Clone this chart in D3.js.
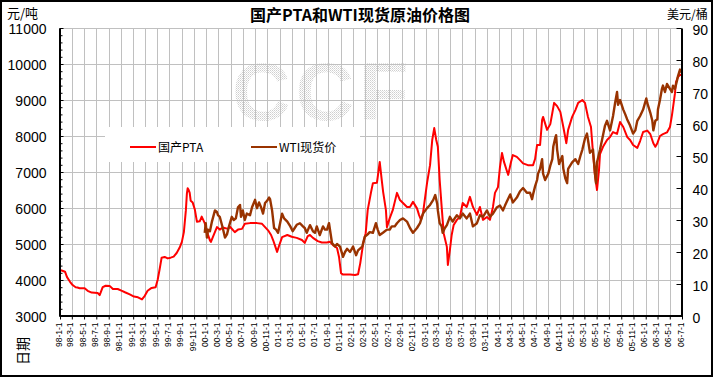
<!DOCTYPE html>
<html><head><meta charset="utf-8">
<script src="https://cdn.jsdelivr.net/npm/d3@7"></script>
<style>body{margin:0;background:#fff}svg{display:block}</style>
</head><body><svg id="chart" width="718" height="379"></svg>
<script>
const chartTitle = "国产PTA和WTI现货原油价格图";
const seriesNames = ["国产PTA", "WTI现货价"];
const leftUnit = "元/吨", rightUnit = "美元/桶", xTitle = "日期", watermark = "CCF";
const leftTicks = [3000, 4000, 5000, 6000, 7000, 8000, 9000, 10000, 11000];
const rightTicks = [0, 10, 20, 30, 40, 50, 60, 70, 80, 90];
const xTickLabels = [
 "98-1-1","98-3-1","98-5-1","98-7-1","98-9-1","98-11-1",
 "99-1-1","99-3-1","99-5-1","99-7-1","99-9-1","99-11-1",
 "00-1-1","00-3-1","00-5-1","00-7-1","00-9-1","00-11-1",
 "01-1-1","01-3-1","01-5-1","01-7-1","01-9-1","01-11-1",
 "02-1-1","02-3-1","02-5-1","02-7-1","02-9-1","02-11-1",
 "03-1-1","03-3-1","03-5-1","03-7-1","03-9-1","03-11-1",
 "04-1-1","04-3-1","04-5-1","04-7-1","04-9-1","04-11-1",
 "05-1-1","05-3-1","05-5-1","05-7-1","05-9-1","05-11-1",
 "06-1-1","06-3-1","06-5-1","06-7-1"];

const ptaSeries = [["1998-01-01",4280],["1998-01-16",4250],["1998-01-26",4230],["1998-02-05",4080],["1998-02-20",3950],["1998-03-05",3860],["1998-03-20",3800],["1998-03-29",3790],["1998-04-09",3770],["1998-05-04",3770],["1998-05-19",3700],["1998-06-08",3650],["1998-07-08",3640],["1998-07-18",3580],["1998-08-02",3800],["1998-08-17",3840],["1998-09-07",3830],["1998-09-22",3750],["1998-10-16",3750],["1998-11-06",3700],["1998-11-21",3660],["1998-12-15",3600],["1999-01-05",3540],["1999-01-25",3520],["1999-02-14",3460],["1999-02-28",3560],["1999-03-14",3700],["1999-04-03",3780],["1999-04-23",3800],["1999-05-03",4000],["1999-05-13",4300],["1999-05-23",4620],["1999-06-07",4640],["1999-06-22",4600],["1999-07-07",4620],["1999-07-22",4650],["1999-08-06",4750],["1999-08-21",4900],["1999-09-01",5060],["1999-09-11",5330],["1999-09-21",5940],["1999-09-26",6400],["1999-09-30",6550],["1999-10-05",6500],["1999-10-10",6420],["1999-10-15",6200],["1999-10-25",6150],["1999-11-05",5950],["1999-11-15",5620],["1999-11-29",5630],["1999-12-09",5760],["1999-12-24",5580],["2000-01-09",5260],["2000-01-19",5100],["2000-01-24",5060],["2000-02-03",5200],["2000-02-23",5470],["2000-03-08",5400],["2000-03-23",5460],["2000-04-18",5420],["2000-04-28",5480],["2000-05-22",5330],["2000-06-07",5400],["2000-06-27",5420],["2000-07-11",5560],["2000-08-06",5580],["2000-09-10",5580],["2000-10-05",5560],["2000-10-20",5470],["2000-11-04",5380],["2000-11-19",5250],["2000-11-29",5110],["2000-12-09",4950],["2000-12-19",4780],["2000-12-29",4950],["2001-01-13",5190],["2001-02-08",5250],["2001-03-02",5200],["2001-03-27",5170],["2001-04-22",5110],["2001-05-06",5030],["2001-05-21",5220],["2001-06-01",5250],["2001-06-16",5170],["2001-07-10",5080],["2001-07-30",5040],["2001-08-24",5040],["2001-09-09",5060],["2001-09-24",4970],["2001-10-14",4890],["2001-10-24",4640],["2001-11-03",4190],["2001-11-13",4150],["2001-12-18",4150],["2002-01-12",4140],["2002-01-27",4160],["2002-02-07",4470],["2002-02-22",5030],["2002-03-06",5300],["2002-03-16",5940],["2002-04-01",6420],["2002-04-11",6690],["2002-05-01",6700],["2002-05-05",6860],["2002-05-15",7280],["2002-05-25",6780],["2002-06-01",6450],["2002-06-15",5940],["2002-06-20",5470],["2002-07-04",5720],["2002-07-19",5940],["2002-08-09",6420],["2002-08-24",6220],["2002-09-08",6140],["2002-09-28",6030],["2002-10-13",6030],["2002-10-28",6170],["2002-11-17",5990],["2002-11-27",5810],["2002-12-07",5670],["2002-12-17",5860],["2003-01-06",6690],["2003-01-21",7190],["2003-02-01",7890],["2003-02-11",8220],["2003-02-21",7890],["2003-03-01",7700],["2003-03-10",6780],["2003-03-20",6030],["2003-03-30",5300],["2003-04-15",4920],["2003-04-20",4420],["2003-04-30",4830],["2003-05-09",5250],["2003-05-19",5530],["2003-06-04",5670],["2003-06-19",5750],["2003-07-03",6140],["2003-07-23",6030],["2003-08-08",6310],["2003-08-23",6030],["2003-09-12",5810],["2003-09-27",6030],["2003-10-12",5670],["2003-11-01",5750],["2003-11-16",5670],["2003-12-01",6030],["2003-12-11",6420],["2003-12-26",6580],["2004-01-05",7140],["2004-01-15",7530],["2004-01-25",7280],["2004-02-10",7000],["2004-02-15",6920],["2004-02-29",7280],["2004-03-09",7470],["2004-03-29",7420],["2004-04-14",7330],["2004-04-29",7240],["2004-05-23",7190],["2004-06-18",7190],["2004-06-28",7360],["2004-07-08",7750],["2004-07-23",7750],["2004-08-02",8440],["2004-08-07",8530],["2004-08-27",8170],["2004-09-12",8330],["2004-09-22",8640],["2004-10-01",8920],["2004-10-16",8830],["2004-11-01",8670],["2004-11-16",8250],["2004-12-01",7800],["2004-12-10",8170],["2004-12-30",8530],["2005-01-15",8720],["2005-01-29",8920],["2005-02-19",9000],["2005-03-04",8920],["2005-03-19",8530],["2005-04-03",8250],["2005-04-13",7530],["2005-04-23",6900],["2005-05-03",6500],["2005-05-13",7060],["2005-05-18",7500],["2005-06-02",7700],["2005-06-22",7890],["2005-07-07",7970],["2005-07-22",8110],["2005-08-11",8060],["2005-08-26",8390],["2005-09-11",8250],["2005-10-01",7970],["2005-10-15",7890],["2005-10-30",7750],["2005-11-20",7670],["2005-12-04",7860],["2005-12-19",8110],["2006-01-09",8150],["2006-01-24",8050],["2006-02-08",7800],["2006-02-18",7700],["2006-02-28",7800],["2006-03-13",8000],["2006-03-28",8050],["2006-04-17",8100],["2006-05-02",8250],["2006-05-12",8580],["2006-05-17",8780],["2006-05-27",9190],["2006-06-01",9500],["2006-06-11",9640],["2006-06-21",9700],["2006-07-01",9690]];

const wtiSeries = [["1999-12-24",26],["1999-12-29",29],["2000-01-04",24.5],["2000-01-09",27],["2000-01-19",26.5],["2000-01-29",29.5],["2000-02-13",33],["2000-02-23",32.5],["2000-02-28",31.5],["2000-03-08",31],["2000-03-23",27.5],["2000-04-03",24.5],["2000-04-13",25.5],["2000-04-23",28],["2000-05-07",31],["2000-05-17",30],["2000-05-27",30.5],["2000-06-07",34],["2000-06-17",34.7],["2000-06-22",31],["2000-07-01",33],["2000-07-11",30],["2000-07-21",32],["2000-08-06",31.5],["2000-08-16",34],["2000-08-31",36.3],["2000-09-10",33.7],["2000-09-20",35.5],["2000-09-30",34],["2000-10-10",32],["2000-10-20",35.3],["2000-10-30",36],["2000-11-09",37],["2000-11-14",36.5],["2000-11-24",33],["2000-12-04",27.5],["2000-12-14",27],["2000-12-24",26],["2001-01-03",29],["2001-01-13",32],["2001-01-23",30.5],["2001-02-08",29.5],["2001-02-23",28],["2001-03-07",26.5],["2001-03-17",27.5],["2001-03-27",28.5],["2001-04-12",29],["2001-04-27",28],["2001-05-06",27.5],["2001-05-16",26],["2001-06-01",28.4],["2001-06-16",26.5],["2001-06-26",26],["2001-07-05",28],["2001-07-20",25.3],["2001-08-05",28],["2001-08-15",27],["2001-08-25",27],["2001-09-04",29],["2001-09-19",22.8],["2001-10-04",21.7],["2001-10-14",22.5],["2001-10-29",21.7],["2001-11-13",18.5],["2001-11-23",20],["2001-12-03",21],["2001-12-18",20],["2002-01-02",21.7],["2002-01-17",19],["2002-01-27",20.5],["2002-02-17",21.7],["2002-03-01",24.7],["2002-03-16",25.5],["2002-03-26",26.2],["2002-04-11",26],["2002-04-26",29],["2002-05-05",27],["2002-05-15",25.3],["2002-05-31",26],["2002-06-20",27],["2002-07-04",27],["2002-07-14",28],["2002-07-29",28],["2002-08-09",29],["2002-08-24",30],["2002-09-08",30.5],["2002-09-28",29.5],["2002-10-13",27.5],["2002-10-28",26],["2002-11-17",27.5],["2002-12-02",29],["2002-12-17",32],["2003-01-06",33.7],["2003-01-21",34.7],["2003-02-06",36.3],["2003-02-16",37.8],["2003-02-26",35],["2003-03-01",33],["2003-03-10",29],["2003-03-20",28],["2003-03-25",26],["2003-04-05",27.5],["2003-04-15",28.4],["2003-04-30",31],["2003-05-14",29.5],["2003-05-24",30.5],["2003-06-04",31.5],["2003-06-19",30.5],["2003-07-03",32],["2003-07-23",30.5],["2003-08-08",32],["2003-08-23",28],["2003-09-12",29],["2003-09-27",31.5],["2003-10-12",31],["2003-11-01",33],["2003-11-16",31],["2003-12-01",32],["2003-12-21",34],["2004-01-05",34.5],["2004-01-20",33],["2004-01-30",34.5],["2004-02-10",36],["2004-02-25",38],["2004-03-09",35.5],["2004-03-29",37],["2004-04-14",39],["2004-04-29",40],["2004-05-18",38.5],["2004-06-03",38.5],["2004-06-13",36.5],["2004-06-18",38],["2004-06-28",40.5],["2004-07-08",42.5],["2004-07-13",44.5],["2004-07-23",46],["2004-08-02",49],["2004-08-07",44.5],["2004-08-17",42.5],["2004-09-02",44.5],["2004-09-12",47],["2004-09-22",49],["2004-09-27",53],["2004-10-06",55.5],["2004-10-11",56.5],["2004-10-16",52],["2004-10-26",47.5],["2004-11-11",50],["2004-11-16",46],["2004-11-26",43],["2004-12-05",41.5],["2004-12-10",46],["2004-12-20",47],["2004-12-30",48],["2005-01-15",49],["2005-01-29",47.5],["2005-02-09",50],["2005-02-19",52],["2005-03-04",55.5],["2005-03-14",57],["2005-03-19",55],["2005-03-29",51],["2005-04-13",52],["2005-04-23",44.5],["2005-04-28",41.5],["2005-05-03",48],["2005-05-18",52],["2005-05-28",55],["2005-06-12",59.5],["2005-06-22",61],["2005-07-07",58],["2005-07-22",62.5],["2005-08-01",66.5],["2005-08-11",70],["2005-08-16",66],["2005-08-26",67.5],["2005-09-11",64.5],["2005-09-21",63],["2005-09-30",61.5],["2005-10-15",59.5],["2005-10-30",57],["2005-11-10",58],["2005-11-20",61],["2005-12-04",62.5],["2005-12-19",64.5],["2006-01-04",68],["2006-01-09",66.5],["2006-01-24",63.5],["2006-02-03",61],["2006-02-08",58],["2006-02-18",61],["2006-02-28",61.5],["2006-03-03",64.5],["2006-03-13",67.5],["2006-03-23",71],["2006-03-28",72],["2006-04-07",70],["2006-04-17",72.5],["2006-05-02",71],["2006-05-12",70],["2006-05-17",72],["2006-05-27",71],["2006-06-06",73.5],["2006-06-11",75],["2006-06-21",77],["2006-07-01",76]];

const seriesColors = ["#ff0000", "#993300"];

// ---- layout ----
const P = {left: 60, right: 682, top: 28, bottom: 316};
const parseDate = d3.timeParse("%Y-%m-%d");
const parseTick = d3.timeParse("%y-%m-%d");
const tickDates = xTickLabels.map(parseTick);

const x = d3.scaleTime().domain([tickDates[0], tickDates[tickDates.length - 1]]).range([P.left, P.right]);
const yL = d3.scaleLinear().domain([3000, 11000]).range([P.bottom, P.top]);
const yR = d3.scaleLinear().domain([0, 90]).range([P.bottom, P.top]);

const svg = d3.select("#chart");
const numFont = "'Liberation Sans', Arial, sans-serif";
const cjkFont = "'Noto Sans CJK SC', 'Liberation Sans', sans-serif";

svg.append("rect").attr("width", 718).attr("height", 379).attr("fill", "#fff");

// watermark pattern
const defs = svg.append("defs");
const pat = defs.append("pattern").attr("id", "dots").attr("width", 2).attr("height", 2).attr("patternUnits", "userSpaceOnUse");
pat.append("rect").attr("width", 1).attr("height", 1).attr("fill", "#cfcfcf");
pat.append("rect").attr("x", 1).attr("y", 1).attr("width", 1).attr("height", 1).attr("fill", "#e2e2e2");

svg.append("text").attr("x", 232).attr("y", 120)
  .attr("font-family", numFont).attr("font-weight", "bold").attr("font-size", 81)
  .attr("letter-spacing", 5).attr("fill", "url(#dots)").text(watermark);

// gridlines
const grid = svg.append("g").attr("stroke", "#c0c0c0").attr("stroke-width", 1);
grid.selectAll("line.h").data(leftTicks).join("line")
  .attr("x1", P.left).attr("x2", P.right)
  .attr("y1", d => Math.round(yL(d)) + 0.5).attr("y2", d => Math.round(yL(d)) + 0.5);
grid.selectAll("line.v").data(tickDates.slice(1, -1)).join("line")
  .attr("y1", P.top).attr("y2", P.bottom)
  .attr("x1", d => Math.round(x(d)) + 0.5).attr("x2", d => Math.round(x(d)) + 0.5);

// legend box
svg.append("rect").attr("x", 105).attr("y", 127).attr("width", 255).attr("height", 35).attr("fill", "#fff");
const legendPos = [130, 251];
seriesNames.forEach((name, i) => {
  const g = svg.append("g");
  g.append("line").attr("x1", legendPos[i]).attr("x2", legendPos[i] + 26).attr("y1", 147).attr("y2", 147)
    .attr("stroke", seriesColors[i]).attr("stroke-width", 2);
  g.append("text").attr("x", legendPos[i] + 28).attr("y", 152).attr("font-family", cjkFont)
    .attr("font-size", 12).attr("fill", "#000").text(name);
});

// series lines
const lineL = d3.line().x(d => x(parseDate(d[0]))).y(d => yL(d[1]));
const lineR = d3.line().x(d => x(parseDate(d[0]))).y(d => yR(d[1]));
svg.append("path").datum(ptaSeries).attr("d", lineL).attr("fill", "none")
  .attr("stroke", seriesColors[0]).attr("stroke-width", 2).attr("stroke-linejoin", "round");
svg.append("path").datum(wtiSeries).attr("d", lineR).attr("fill", "none")
  .attr("stroke", seriesColors[1]).attr("stroke-width", 2.4).attr("stroke-linejoin", "round");

// axes
const axL = svg.append("g").attr("transform", `translate(${P.left - 0.5},0)`)
  .call(d3.axisLeft(yL).tickValues(leftTicks).tickFormat(d3.format("d")).tickSize(-4).tickPadding(13).tickSizeOuter(0));
const minorL = d3.range(3200, 11000, 200).filter(v => v % 1000 !== 0);
svg.append("g").attr("transform", `translate(${P.left - 0.5},0)`)
  .call(d3.axisLeft(yL).tickValues(minorL).tickSize(-3).tickFormat("").tickSizeOuter(0))
  .call(g => g.select(".domain").remove());
const axR = svg.append("g").attr("transform", `translate(${P.right - 0.5},0)`)
  .call(d3.axisRight(yR).tickValues(rightTicks).tickFormat(d3.format("d")).tickSize(-5).tickPadding(11).tickSizeOuter(0));
const axB = svg.append("g").attr("transform", `translate(0,${P.bottom - 0.5})`)
  .call(d3.axisBottom(x).tickValues(tickDates).tickSize(4).tickSizeOuter(0).tickFormat((d, i) => xTickLabels[i]));

[axL, axR, axB].forEach(a => {
  a.select(".domain").attr("stroke", "#000").attr("stroke-width", 2);
  a.selectAll(".tick line").attr("stroke", "#000");
  a.selectAll("text").attr("font-family", numFont).attr("fill", "#000");
});
axL.selectAll("text").attr("font-size", 14).attr("dy", "0.36em");
axR.selectAll("text").attr("font-size", 14).attr("dy", "0.45em");
axB.selectAll("text").attr("font-size", 8.5)
  .attr("transform", "rotate(-90)").attr("text-anchor", "end")
  .attr("x", -7).attr("y", 1).attr("dy", 0);

// titles
svg.append("text").attr("x", 360).attr("y", 21).attr("text-anchor", "middle")
  .attr("font-family", cjkFont).attr("font-weight", "bold").attr("font-size", 16).text(chartTitle);
svg.append("text").attr("x", 7).attr("y", 18).attr("font-family", cjkFont).attr("font-size", 13).text(leftUnit);
svg.append("text").attr("x", 667).attr("y", 19).attr("font-family", cjkFont).attr("font-size", 12).text(rightUnit);
svg.append("text").attr("transform", "translate(28,351) rotate(-90)").attr("text-anchor", "middle")
  .attr("font-family", cjkFont).attr("font-size", 14).text(xTitle);

// outer frame
svg.append("rect").attr("x", 1).attr("y", 1).attr("width", 711).attr("height", 375)
  .attr("fill", "none").attr("stroke", "#000").attr("stroke-width", 2);
</script></body></html>
